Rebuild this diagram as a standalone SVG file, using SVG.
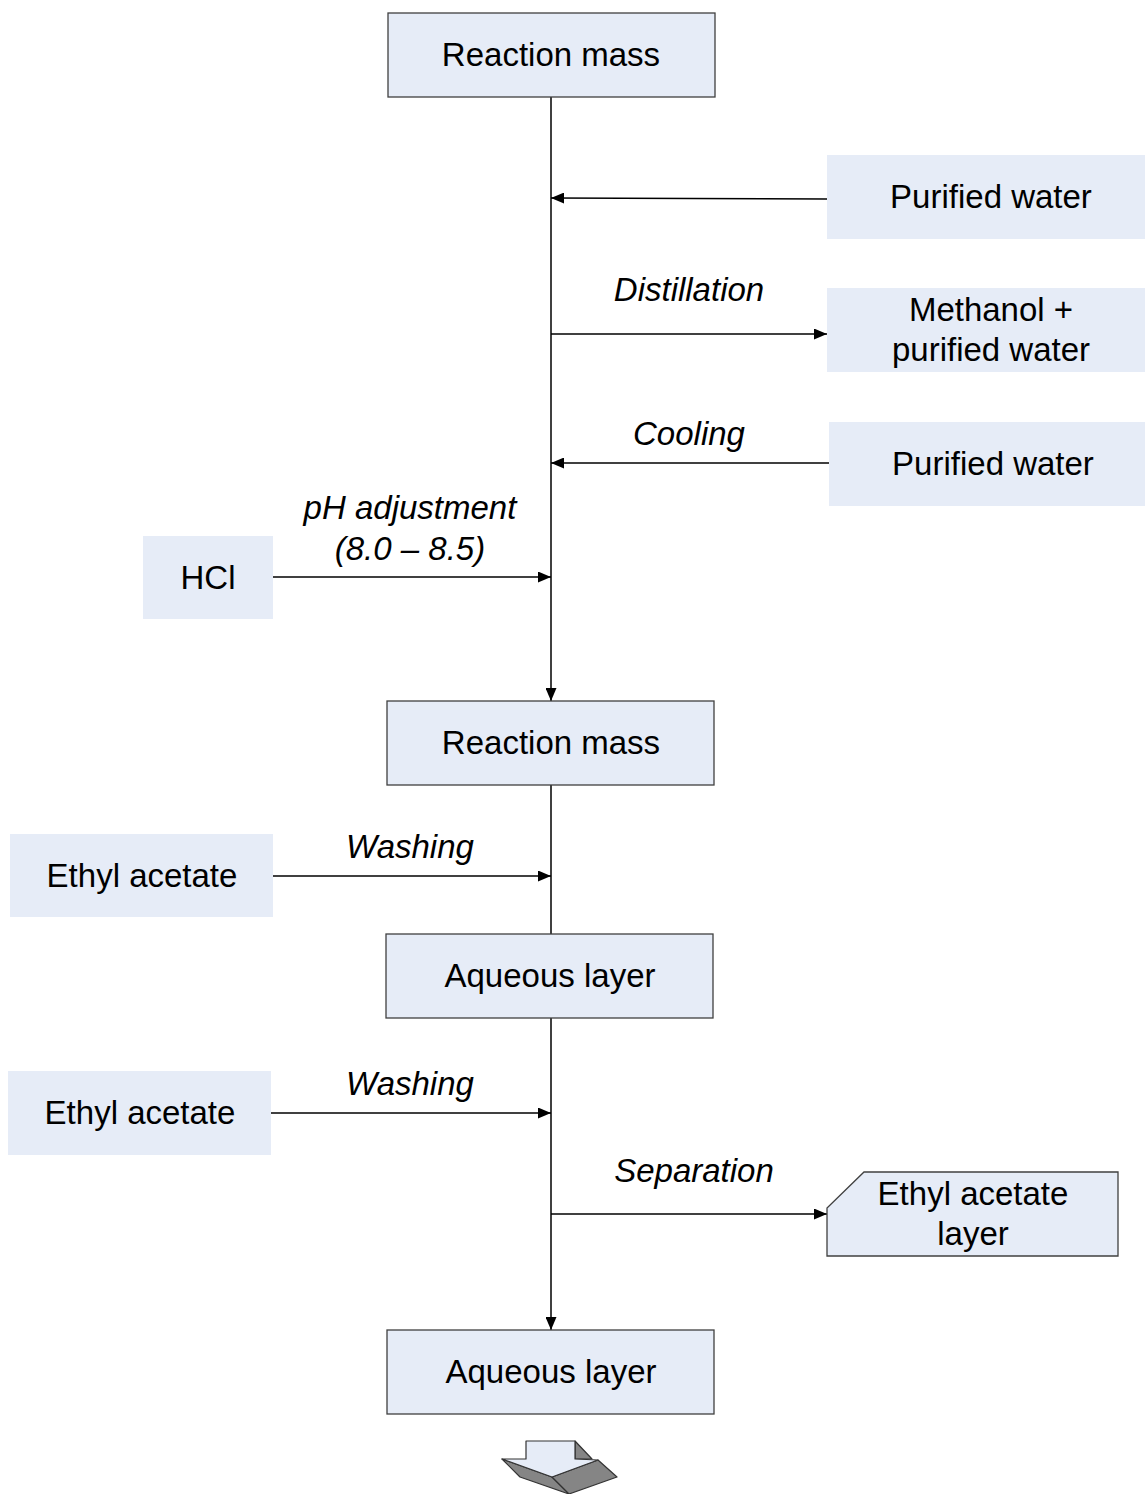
<svg xmlns="http://www.w3.org/2000/svg" width="1145" height="1494" viewBox="0 0 1145 1494">
<style>
.box{fill:#e6ecf7;stroke:#404040;stroke-width:1.3}
.plain{fill:#e6ecf7}
.t{font-family:"Liberation Sans",Arial,sans-serif;font-size:33px;fill:#000;text-anchor:middle}
.lbl{font-family:"Liberation Sans",Arial,sans-serif;font-size:33px;font-style:italic;fill:#000;text-anchor:middle}
.c{stroke:#000;stroke-width:1.5;fill:none}
.face{fill:#e6ecf7;stroke:#333;stroke-width:1.2;stroke-linejoin:round}
.side{fill:#858585;stroke:#333;stroke-width:1.2;stroke-linejoin:round}
</style>
<defs>
<marker id="ah" viewBox="0 0 13 11" refX="13" refY="5.5" markerWidth="13" markerHeight="11" markerUnits="userSpaceOnUse" orient="auto">
<path d="M0,0 L13,5.5 L0,11 Z" fill="#000"/>
</marker>
</defs>
<g id="connectors">
<line class="c" x1="551" y1="97" x2="551" y2="701" marker-end="url(#ah)"/>
<line class="c" x1="551" y1="785" x2="551" y2="934"/>
<line class="c" x1="551" y1="1018" x2="551" y2="1330" marker-end="url(#ah)"/>
<line class="c" x1="827" y1="199" x2="551" y2="198" marker-end="url(#ah)"/>
<line class="c" x1="551" y1="334" x2="827" y2="334" marker-end="url(#ah)"/>
<line class="c" x1="829" y1="463" x2="551" y2="463" marker-end="url(#ah)"/>
<line class="c" x1="273" y1="577" x2="551" y2="577" marker-end="url(#ah)"/>
<line class="c" x1="273" y1="876" x2="551" y2="876" marker-end="url(#ah)"/>
<line class="c" x1="271" y1="1113" x2="551" y2="1113" marker-end="url(#ah)"/>
<line class="c" x1="551" y1="1214" x2="827" y2="1214" marker-end="url(#ah)"/>
</g>
<g id="labels">
<text class="lbl" x="689" y="301">Distillation</text>
<text class="lbl" x="689" y="445">Cooling</text>
<text class="lbl" x="410" y="519">pH adjustment</text>
<text class="lbl" x="410" y="560">(8.0 – 8.5)</text>
<text class="lbl" x="410" y="858">Washing</text>
<text class="lbl" x="410" y="1095">Washing</text>
<text class="lbl" x="694" y="1182">Separation</text>
</g>
<g id="n_reaction1"><rect class="box" x="388" y="13" width="327" height="84"/><text class="t" x="551" y="66">Reaction mass</text></g>
<g id="n_water1"><rect class="plain" x="827" y="155" width="318" height="84"/><text class="t" x="991" y="208">Purified water</text></g>
<g id="n_methanol"><rect class="plain" x="827" y="288" width="318" height="84"/><text class="t" x="991" y="321">Methanol +</text><text class="t" x="991" y="361">purified water</text></g>
<g id="n_water2"><rect class="plain" x="829" y="422" width="316" height="84"/><text class="t" x="993" y="475">Purified water</text></g>
<g id="n_hcl"><rect class="plain" x="143" y="536" width="130" height="83"/><text class="t" x="208" y="589">HCl</text></g>
<g id="n_reaction2"><rect class="box" x="387" y="701" width="327" height="84"/><text class="t" x="551" y="754">Reaction mass</text></g>
<g id="n_ethyl1"><rect class="plain" x="10" y="834" width="263" height="83"/><text class="t" x="142" y="887">Ethyl acetate</text></g>
<g id="n_aqueous1"><rect class="box" x="386" y="934" width="327" height="84"/><text class="t" x="550" y="987">Aqueous layer</text></g>
<g id="n_ethyl2"><rect class="plain" x="8" y="1071" width="263" height="84"/><text class="t" x="140" y="1124">Ethyl acetate</text></g>
<g id="n_ethyllayer"><path class="box" d="M864,1172 L1118,1172 L1118,1256 L827,1256 L827,1208 Z"/><text class="t" x="973" y="1205">Ethyl acetate</text><text class="t" x="973" y="1245">layer</text></g>
<g id="n_aqueous2"><rect class="box" x="387" y="1330" width="327" height="84"/><text class="t" x="551" y="1383">Aqueous layer</text></g>
<g id="n_continue">
<polygon class="side" points="575,1441 592,1459 575,1459"/>
<polygon class="side" points="502,1459 552,1477 569,1494 520,1477"/>
<polygon class="side" points="552,1477 598,1460 617,1477 569,1494"/>
<polygon class="face" points="526,1441 575,1441 575,1459 598,1460 552,1477 502,1459 526,1459"/>
</g>
</svg>
